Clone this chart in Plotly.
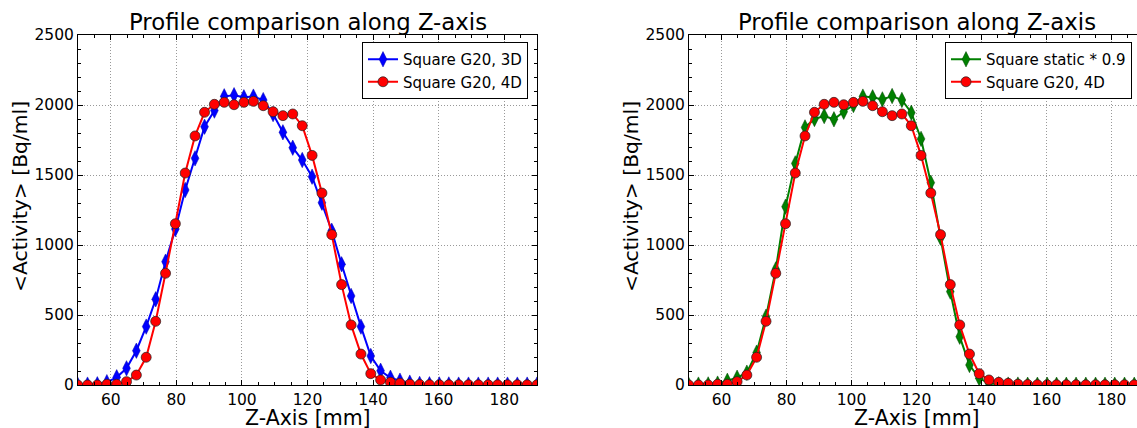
import plotly.graph_objects as go

z_mm = [49.9, 52.9, 55.9, 58.8, 61.8, 64.8, 67.8, 70.8, 73.7, 76.7,
        79.7, 82.7, 85.7, 88.6, 91.6, 94.6, 97.6, 100.6, 103.5, 106.5,
        109.5, 112.5, 115.5, 118.4, 121.4, 124.4, 127.4, 130.4, 133.3, 136.3,
        139.3, 142.3, 145.3, 148.2, 151.2, 154.2, 157.2, 160.2, 163.1, 166.1,
        169.1, 172.1, 175.1, 178.0, 181.0, 184.0, 187.0, 190.0]

g20_3d = [2, 3, 5, 20, 55, 119, 245, 417, 612, 881,
          1114, 1393, 1619, 1845, 1960, 2062, 2070, 2055, 2060, 2035,
          1935, 1805, 1695, 1607, 1488, 1302, 1102, 862, 636, 417,
          207, 102, 52, 31, 17, 8, 5, 4, 4, 3,
          3, 3, 3, 3, 3, 3, 3, 3]

g20_4d = [0, 0, 0, 5, 5, 24, 71, 198, 455, 798,
          1152, 1514, 1779, 1948, 2005, 2019, 2002, 2019, 2026, 1995,
          1952, 1924, 1936, 1852, 1640, 1371, 1074, 717, 429, 221,
          81, 36, 19, 12, 6, 3, 2, 1, 1, 1,
          1, 1, 1, 1, 1, 1, 1, 1]

static_09 = [2, 3, 4, 10, 30, 52, 88, 231, 488, 826,
             1274, 1583, 1840, 1900, 1921, 1898, 1952, 2000, 2060, 2055,
             2040, 2064, 2036, 1945, 1758, 1445, 1052, 667, 345, 143,
             48, 12, 5, 3, 3, 2, 2, 2, 2, 2,
             2, 2, 2, 2, 2, 2, 2, 2]

title_text = "Profile comparison along Z-axis"
x_title = "Z-Axis [mm]"
y_title = "&lt;Activity&gt; [Bq/ml]"

W, H = 1137, 428
FONT = "DejaVu Sans"

fig = go.Figure()

edge = dict(color="#202020", width=0.7)

fig.add_trace(go.Scatter(
    x=z_mm, y=g20_3d, name="Square G20, 3D", mode="lines+markers",
    line=dict(color="#0000ff", width=2),
    marker=dict(symbol="diamond-tall", size=11, color="#0000ff", line=dict(color="#0000aa", width=0.5)),
    xaxis="x", yaxis="y", legend="legend"))
fig.add_trace(go.Scatter(
    x=z_mm, y=g20_4d, name="Square G20, 4D", mode="lines+markers",
    line=dict(color="#ff0000", width=2),
    marker=dict(symbol="circle", size=10, color="#ff0000", line=edge),
    xaxis="x", yaxis="y", legend="legend"))

fig.add_trace(go.Scatter(
    x=z_mm, y=static_09, name="Square static * 0.9", mode="lines+markers",
    line=dict(color="#008000", width=2),
    marker=dict(symbol="diamond-tall", size=11, color="#008000", line=dict(color="#004000", width=0.5)),
    xaxis="x2", yaxis="y2", legend="legend2"))
fig.add_trace(go.Scatter(
    x=z_mm, y=g20_4d, name="Square G20, 4D", mode="lines+markers",
    line=dict(color="#ff0000", width=2),
    marker=dict(symbol="circle", size=10, color="#ff0000", line=edge),
    xaxis="x2", yaxis="y2", legend="legend2"))

ydom = [(H - 385) / H, (H - 35) / H]
x1dom = [78 / W, 537 / W]
x2dom = [689 / W, 1.0]
x2max = 50 + (1137 - 689) / 3.25

GRID = "#999999"
common_x = dict(
    showline=True, linecolor="black", linewidth=1, mirror="allticks",
    ticks="inside", ticklen=5, tickcolor="black",
    showgrid=True, gridcolor=GRID, griddash="1px,2px", gridwidth=1,
    zeroline=False, dtick=20, tick0=0,
    tickfont=dict(family=FONT, size=15.5, color="black"),
    minor=dict(dtick=5, tick0=0, ticks="inside", ticklen=3, tickcolor="black", showgrid=False),
)
common_y = dict(
    showline=True, linecolor="black", linewidth=1,
    ticks="inside", ticklen=5, tickcolor="black",
    showgrid=True, gridcolor=GRID, griddash="1px,2px", gridwidth=1,
    zeroline=False, dtick=500, tick0=0, range=[0, 2500],
    tickfont=dict(family=FONT, size=15.5, color="black"),
    minor=dict(dtick=100, tick0=0, ticks="inside", ticklen=3, tickcolor="black", showgrid=False),
    domain=ydom,
)

legend_style = dict(
    bgcolor="white", bordercolor="black", borderwidth=1,
    font=dict(family=FONT, size=15, color="black"),
    yanchor="top", tracegroupgap=0, itemwidth=30,
)

fig.update_layout(
    width=W, height=H, margin=dict(l=0, r=0, t=0, b=0, pad=0, autoexpand=False),
    paper_bgcolor="white", plot_bgcolor="white",
    font=dict(family=FONT, color="black"),
    xaxis=dict(common_x, domain=x1dom, range=[50, 190], anchor="y"),
    yaxis=dict(common_y, anchor="x", mirror="allticks"),
    xaxis2=dict(common_x, domain=x2dom, range=[50, x2max], anchor="y2"),
    yaxis2=dict(common_y, anchor="x2", mirror=False),
    legend=dict(legend_style, x=528 / W, xanchor="right", y=(H - 42) / H),
    legend2=dict(legend_style, x=945 / W, xanchor="left", y=(H - 42) / H),
    showlegend=True,
)

annos = []
for cx in (307.5, 916.5):
    annos.append(dict(text=title_text, x=cx / W, y=(H - 22) / H, xref="paper", yref="paper",
                      showarrow=False, xanchor="center", yanchor="middle",
                      font=dict(family=FONT, size=22.8, color="black")))
    annos.append(dict(text=x_title, x=cx / W, y=(H - 418) / H, xref="paper", yref="paper",
                      showarrow=False, xanchor="center", yanchor="middle",
                      font=dict(family=FONT, size=20.5, color="black")))
for cx in (20, 631):
    annos.append(dict(text=y_title, x=cx / W, y=(H - 197) / H, xref="paper", yref="paper",
                      showarrow=False, xanchor="center", yanchor="middle", textangle=-90,
                      font=dict(family=FONT, size=20.3, color="black")))
fig.update_layout(annotations=annos)

fig.write_html("out.html")
